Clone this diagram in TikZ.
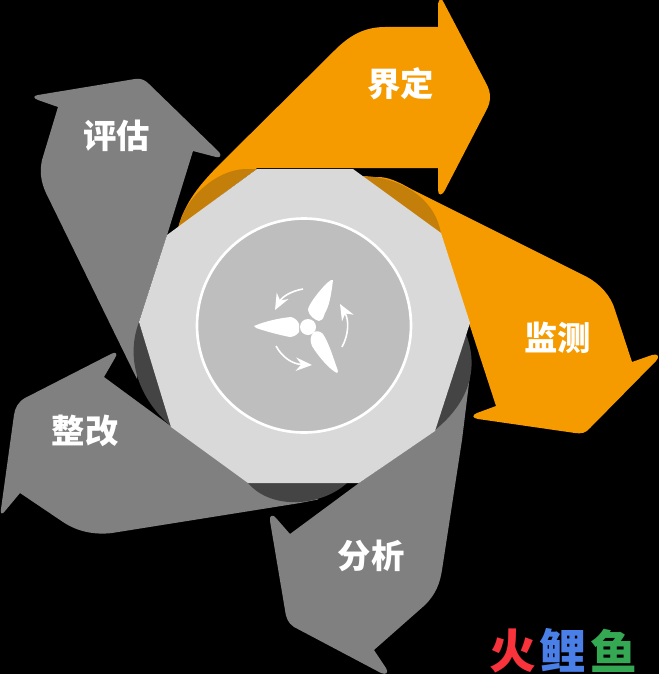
\documentclass[tikz,border=0pt]{standalone}
\usepackage{fontspec}
\usepackage{xcolor}
\usepackage{tikz}
\usetikzlibrary{arrows.meta}
\newfontfamily\cjk{Noto Sans CJK SC}
\definecolor{arroworange}{RGB}{245,155,0}
\definecolor{shadeorange}{RGB}{195,127,10}
\definecolor{arrowgrey}{RGB}{128,128,128}
\definecolor{shadegrey}{RGB}{68,68,68}
\definecolor{platelight}{RGB}{217,217,217}
\definecolor{discgrey}{RGB}{190,190,190}
\tikzset{
	orangearrow/.style={fill=arroworange,draw=none},
	greyarrow/.style={fill=arrowgrey,draw=none},
	orangeshade/.style={fill=shadeorange,draw=none},
	greyshade/.style={fill=shadegrey,draw=none},
	blade/.style={fill=white,draw=none},
	turnarrow/.style={draw=white,line width=1.2pt,-{Stealth[length=12pt,width=10pt]}},
	steplabel/.style={inner sep=0.75pt,text=white,font=\cjk\bfseries\fontsize{25}{25}\selectfont},
	logolabel/.style={inner sep=0pt,font=\cjk\bfseries\fontsize{35}{35}\selectfont}
}

\begin{document}
\begin{tikzpicture}[x=0.75pt,y=0.75pt,yscale=-1,xscale=1]
	%Shape: Background
	\fill [black] (0,0) rectangle (659,674) ;
	\useasboundingbox (0,0) rectangle (659,674) ;
	
	%Shape: Arrow top right
	\path [orangearrow] (178,228) .. controls (185,202) and (200,184) .. (222,162) -- (335,50) .. controls (350,35) and (365,27) .. (385,27) -- (438,27) -- (438,4) .. controls (439,-2) and (442,-2) .. (444,3) -- (487,85) .. controls (491,93) and (491,101) .. (487,109) -- (445,190) .. controls (442,196) and (438,196) .. (438,190) -- (438,168) -- (257,168) -- cycle ;
	%Shape: Arrow right
	\path [orangearrow] (362,177) -- (380,177) .. controls (392,178) and (402,184) .. (413,190) -- (587,277) .. controls (600,284) and (611,296) .. (615,310) -- (632,362) -- (652,355) .. controls (658,353) and (660,357) .. (656,361) -- (590,428) .. controls (586,433) and (581,434) .. (575,433) -- (478,419) .. controls (472,418) and (472,415) .. (477,413) -- (496,406) -- (468,320) -- cycle ;
	%Shape: Arrow bottom right
	\path [greyarrow] (435,430) -- (470,375) -- (462,440) -- (442,570) .. controls (440,583) and (436,594) .. (425,605) -- (374,650) -- (386,668) .. controls (389,673) and (386,675) .. (381,673) -- (294,627) .. controls (288,623) and (286,618) .. (285,610) -- (270,521) .. controls (269,515) and (273,514) .. (276,518) -- (290,534) -- (359,483) -- cycle ;
	%Shape: Arrow bottom left
	\path [greyarrow] (172,427) -- (250,483) -- (316,492) -- (318,499.5) -- (300,503) -- (112,533) .. controls (95,535) and (78,532) .. (63,522) -- (20,493) -- (5,511) .. controls (2,515) and (0,514) .. (1,509) -- (14,415) .. controls (15,408) and (18,402) .. (25,398) -- (111,354) .. controls (116,351) and (118,354) .. (115,358) -- (104,377) -- cycle ;
	%Shape: Arrow top left
	\path [greyarrow] (168,232) -- (139,322) -- (137,379) -- (46,193) .. controls (40,180) and (40,170) .. (42,160) -- (58,107) -- (38,100) .. controls (33,98) and (33,96) .. (38,95) -- (135,79) .. controls (141,78) and (145,80) .. (149,84) -- (219,152) .. controls (222,156) and (220,158) .. (216,157) -- (193,151) -- cycle ;
	
	%Shape: Crescents
	\path [orangeshade] (257,169) -- (179,226) .. controls (184,200) and (215,170) .. (245,169) -- cycle ;
	\path [orangeshade] (361,176) .. controls (395,176) and (435,195) .. (441,234) -- cycle ;
	\path [greyshade] (466,334) .. controls (478,365) and (472,400) .. (435,430) -- cycle ;
	\path [greyshade] (347,483) .. controls (322,506) and (272,511) .. (248,483) -- cycle ;
	\path [greyshade] (139,322) .. controls (123,365) and (145,405) .. (172,427) -- cycle ;
	
	%Shape: Plate
	\path [fill=platelight] (257,169) -- (353,169) -- (441,233) -- (470,323) -- (435,431) -- (359,483) -- (248,483) -- (171,427) -- (139,322) -- (167,235) -- cycle ;
	%Shape: Circle
	\draw [draw=white,fill=discgrey,line width=2pt] (304,325.5) circle [radius=107] ;
	
	%Shape: Turbine
	\fill [white] (308,327) circle [radius=8] ;
	\path [blade] (333,280) .. controls (331,297) and (329,306) .. (325,313) .. controls (323,319) and (322,321) .. (319,321) .. controls (315,320) and (309,316) .. (308,310) .. controls (307,306) and (324,284) .. (331,280) -- cycle ;
	\path [blade] (254,326) .. controls (266,321) and (280,318) .. (291,317) .. controls (295,318) and (298,321) .. (299,324) -- (299,332) .. controls (297,335) and (293,337) .. (290,337) .. controls (279,335) and (265,331) .. (256,328) -- cycle ;
	\path [blade] (337,373) .. controls (330,370) and (318,356) .. (312,346) .. controls (310,341) and (310,337) .. (313,333) .. controls (316,330) and (320,331) .. (323,334) .. controls (329,343) and (334,360) .. (338,371) -- cycle ;
	\draw [turnarrow] (303,289) .. controls (291,291) and (282,297) .. (275,310) ;
	\draw [turnarrow] (342,347) .. controls (349,334) and (349,320) .. (340,304) ;
	\draw [turnarrow] (276,346) .. controls (282,357) and (292,364) .. (312,365) ;
	
	% Text Node
	\node [steplabel] (jieding) at (400.5,84) {界定} ;
	% Text Node
	\node [steplabel] (jiance) at (557.5,338) {监测} ;
	% Text Node
	\node [steplabel] (fenxi) at (371,556) {分析} ;
	% Text Node
	\node [steplabel] (zhenggai) at (85,431) {整改} ;
	% Text Node
	\node [steplabel] (pinggu) at (116.5,136) {评估} ;
	% Text Node
	\node [logolabel,text={rgb,255:red,248;green,51;blue,60}] (huo) at (512.5,650.5) {火} ;
	% Text Node
	\node [logolabel,text={rgb,255:red,74;green,127;blue,232}] (li) at (562.5,650.5) {鲤} ;
	% Text Node
	\node [logolabel,text={rgb,255:red,52;green,168;blue,83}] (yu) at (613.5,650.5) {鱼} ;
\end{tikzpicture}
\end{document}
